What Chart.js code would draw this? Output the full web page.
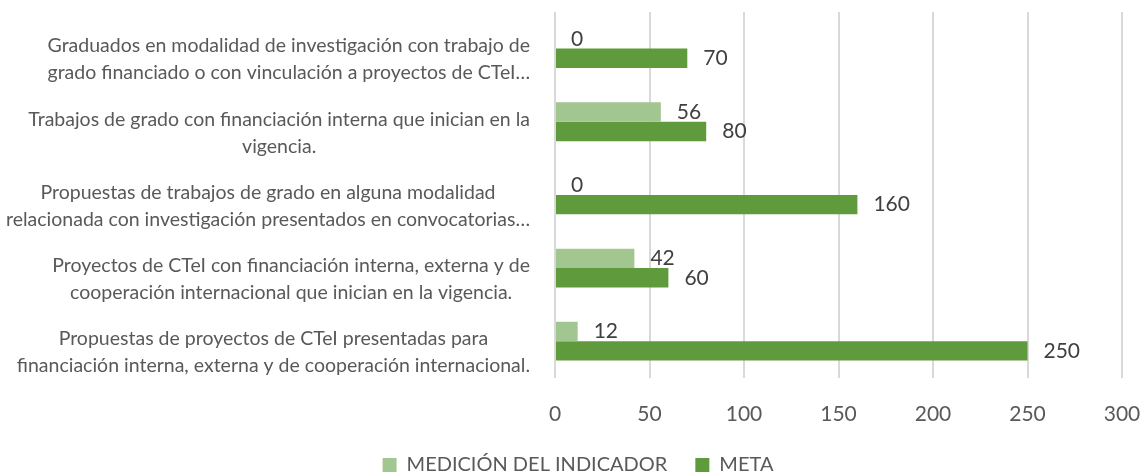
<!DOCTYPE html>
<html>
<head>
<meta charset="utf-8">
<script src="https://cdn.jsdelivr.net/npm/chart.js@4"></script>
<style>
  html, body { margin: 0; padding: 0; background: #fff; }
  #wrap { width: 1140px; height: 476px; }
</style>
</head>
<body>
<div id="wrap"><canvas id="chart" width="1140" height="476"></canvas></div>
<script>
// category labels, already split the way the original wraps them
const categories = [
  ['Graduados en modalidad de investigación con trabajo de', 'grado financiado o con vinculación a proyectos de CTeI…'],
  ['Trabajos de grado con financiación interna que inician en la', 'vigencia.'],
  ['Propuestas de trabajos de grado en alguna modalidad', 'relacionada con investigación presentados en convocatorias…'],
  ['Proyectos de CTeI con financiación interna, externa y de', 'cooperación internacional que inician en la vigencia.'],
  ['Propuestas de proyectos de CTeI presentadas para', 'financiación interna, externa y de cooperación internacional.']
];
const medicion = [0, 56, 0, 42, 12];
const meta = [70, 80, 160, 60, 250];
const seriesNames = ['MEDICIÓN DEL INDICADOR', 'META'];
const xTicks = [0, 50, 100, 150, 200, 250, 300];

const FONT = 'Lato, "Open Sans", sans-serif';
const TEXT = '#595959';

// value labels at the end of each bar
const valueLabels = {
  id: 'valueLabels',
  afterDatasetsDraw(chart) {
    const ctx = chart.ctx;
    ctx.save();
    ctx.font = '21px ' + FONT;
    ctx.fillStyle = '#404040';
    ctx.textAlign = 'left';
    ctx.textBaseline = 'middle';
    chart.data.datasets.forEach((ds, di) => {
      chart.getDatasetMeta(di).data.forEach((bar, i) => {
        ctx.fillText(String(ds.data[i]), bar.x + 16, bar.y);
      });
    });
    ctx.restore();
  }
};

// category labels: block right-aligned to the axis, lines centred inside it
const categoryLabels = {
  id: 'categoryLabels',
  afterDraw(chart) {
    const ctx = chart.ctx;
    const y = chart.scales.y;
    const right = chart.chartArea.left - 25;
    const lineH = 27;
    ctx.save();
    ctx.font = '19.5px ' + FONT;
    ctx.fillStyle = TEXT;
    ctx.textAlign = 'center';
    ctx.textBaseline = 'middle';
    categories.forEach((lines, i) => {
      const cy = y.getPixelForValue(i) + 11;
      const maxW = Math.max(...lines.map(l => ctx.measureText(l).width));
      const cx = right - maxW / 2;
      lines.forEach((l, k) => {
        ctx.fillText(l, cx, cy + (k - (lines.length - 1) / 2) * lineH);
      });
    });
    ctx.restore();
  }
};

new Chart(document.getElementById('chart'), {
  type: 'bar',
  data: {
    labels: categories.map(c => c.join(' ')),
    datasets: [
      { label: seriesNames[0], data: medicion, backgroundColor: '#A2C690', categoryPercentage: 0.53, barPercentage: 1 },
      { label: seriesNames[1], data: meta, backgroundColor: '#5F9A3D', categoryPercentage: 0.53, barPercentage: 1 }
    ]
  },
  options: {
    indexAxis: 'y',
    responsive: false,
    animation: false,
    layout: { padding: { left: 34, right: 18, top: 12, bottom: -9 } },
    scales: {
      x: {
        min: xTicks[0],
        max: xTicks[xTicks.length - 1],
        afterBuildTicks(scale) { scale.ticks = xTicks.map(v => ({ value: v })); },
        afterFit(scale) {
          scale.paddingLeft = 0;
          scale.paddingRight = 0;
          scale.height -= 9;
        },
        grid: { color: '#D9D9D9', lineWidth: 2, drawTicks: false },
        border: { display: false },
        ticks: { color: TEXT, font: { family: FONT, size: 21 }, padding: 24 }
      },
      y: {
        grid: { display: false },
        border: { display: false },
        ticks: { display: false },
        afterFit(scale) { scale.width = 521; }
      }
    },
    plugins: {
      legend: {
        position: 'bottom',
        labels: {
          color: TEXT,
          font: { family: FONT, size: 20 },
          boxWidth: 14,
          boxHeight: 14,
          padding: 13,
          generateLabels(chart) {
            // wider gap between the two entries, like the original
            return Chart.defaults.plugins.legend.labels.generateLabels(chart).map((item, i) => {
              if (i === 0) item.text = item.text + '\u2003';
              return item;
            });
          }
        }
      },
      tooltip: { enabled: false }
    }
  },
  plugins: [valueLabels, categoryLabels]
});
</script>
</body>
</html>
